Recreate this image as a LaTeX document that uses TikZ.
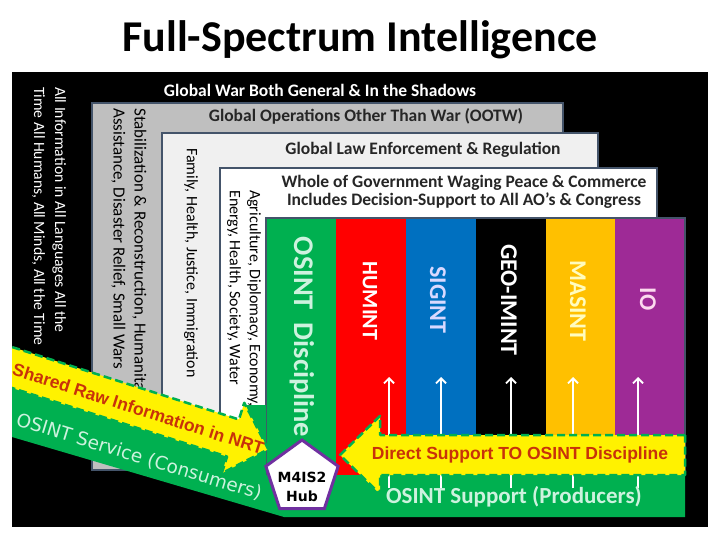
\documentclass[tikz,border=0pt]{standalone}
\usepackage{fontspec}
\setmainfont{Carlito}
\newfontfamily\arialfont{Liberation Sans}
\newfontfamily\dejavufont{DejaVu Sans}
\usetikzlibrary{shapes.geometric,arrows.meta}
\usepackage{xcolor}

\definecolor{slate}{RGB}{68,84,106}
\definecolor{ootwgray}{RGB}{191,191,191}
\definecolor{lawgray}{RGB}{240,240,240}
\definecolor{osgreen}{RGB}{0,176,80}
\definecolor{humred}{RGB}{255,0,0}
\definecolor{sigblue}{RGB}{0,112,192}
\definecolor{masorange}{RGB}{255,192,0}
\definecolor{iopurple}{RGB}{158,42,150}
\definecolor{hubpurple}{RGB}{112,48,160}
\definecolor{arrowtext}{RGB}{200,50,10}
\definecolor{mint}{RGB}{205,242,222}

\begin{document}
\begin{tikzpicture}[x=1pt,y=-1pt,
  frame/.style={fill=#1,draw=slate,line width=1.5pt},
  vlabel/.style={rotate=-90,anchor=west,inner sep=0pt,align=left,font=\fontsize{16}{20}\selectfont},
  barlabel/.style={rotate=-90,inner sep=0pt,font=\bfseries\fontsize{24}{26}\selectfont},
  bandlabel/.style={inner sep=0pt,align=center,font=\bfseries\fontsize{17.5}{18}\selectfont},
  upline/.style={white,line width=1.8pt,-{Straight Barb[length=5pt,width=10pt]}},
  yellowarrow/.style={fill=yellow,draw=osgreen,line width=2.5pt,dash pattern=on 8pt off 4pt,line join=round}]
\useasboundingbox (0,0) rectangle (720,540);

% title
\node (title) at (360,40) {\bfseries\fontsize{44}{48}\selectfont Full-Spectrum Intelligence};

% black field and the nested frames
\fill[black] (12,72) rectangle (708,527);
\draw[frame=ootwgray] (92,103) rectangle (563,470);
\draw[frame=lawgray] (162,133) rectangle (598,470);
\draw[frame=white] (220,168) rectangle (657,470);

\node[bandlabel,text=white] (war) at (320,90) {Global War Both General \& In the Shadows};
\node[bandlabel,text=black!85] (ootw) at (366,116) {Global Operations Other Than War (OOTW)};
\node[bandlabel,text=black!85] (law) at (423,150) {Global Law Enforcement \& Regulation};
\node[bandlabel,text=black!85] (whole) at (464,192)
  {Whole of Government Waging Peace \& Commerce\\Includes Decision-Support to All AO’s \& Congress};

\node[vlabel,text=white,font=\fontsize{15.7}{21}\selectfont] (allinfo) at (49,87)
  {All Information in All Languages All the\\Time All Humans, All Minds, All the Time};
\node[vlabel,font=\fontsize{17}{21}\selectfont] (stab) at (129,108)
  {Stabilization \& Reconstruction, Humanitarian\\Assistance, Disaster Relief, Small Wars};
\node[vlabel] (family) at (191,148) {Family, Health, Justice, Immigration};
\node[vlabel] (agri) at (244,190) {Agriculture, Diplomacy, Economy,\\Energy, Health, Society, Water};

% discipline bars
\fill[osgreen] (266,218) rectangle (336,475);
\fill[humred] (336,218) rectangle (406,475);
\fill[sigblue] (406,218) rectangle (476,475);
\fill[black] (476,218) rectangle (546,475);
\fill[masorange] (546,218) rectangle (615,475);
\fill[iopurple] (615,218) rectangle (685,475);
\draw[slate,line width=1.5pt] (266,475) -- (266,218) -- (685,218) -- (685,475);

\node[barlabel,text=mint,font=\bfseries\fontsize{28.5}{30}\selectfont] (osint) at (302,337) {OSINT\ \ Discipline};
\node[barlabel,text=white,font=\bfseries\fontsize{22}{24}\selectfont] (humint) at (370,301) {HUMINT};
\node[barlabel,text=blue!15] (sigint) at (438,300) {SIGINT};
\node[barlabel,text=white] (geoimint) at (509,300) {GEO-IMINT};
\node[barlabel,text=yellow!25] (masint) at (578,301) {MASINT};
\node[barlabel,text=magenta!15] (io) at (648,299) {IO};

% green service band
\fill[osgreen] (12,367) -- (235,440) -- (245,405) -- (266,405) -- (266,475) -- (685,475)
  -- (685,517) -- (284,517) -- (12,437) -- cycle;

% support arrows up the bars
\coordinate (s1) at (389,488); \coordinate (t1) at (389,377);
\coordinate (s2) at (441,488); \coordinate (t2) at (441,377);
\coordinate (s3) at (511,488); \coordinate (t3) at (511,377);
\coordinate (s4) at (573,488); \coordinate (t4) at (573,377);
\coordinate (s5) at (638,488); \coordinate (t5) at (638,377);
\draw[upline] (s1) -- (t1);
\draw[upline] (s2) -- (t2);
\draw[upline] (s3) -- (t3);
\draw[upline] (s4) -- (t4);
\draw[upline] (s5) -- (t5);

% yellow arrows
\begin{scope}
\clip (12,72) rectangle (708,527);
\begin{scope}[shift={(12,367.5)},rotate=-17.7]
\draw[yellowarrow] (-30,-19.5) -- (232,-19.5) -- (232,-37) -- (269,0) -- (232,37)
  -- (232,19.5) -- (-30,19.5) -- cycle;
\node[transform shape,inner sep=0pt,text=arrowtext] (shared) at (133,1)
  {\arialfont\bfseries\fontsize{17.5}{19}\selectfont Shared Raw Information in NRT};
\end{scope}
\draw[yellowarrow] (685,435) -- (380,435) -- (380,416) -- (340,455) -- (380,494)
  -- (380,475) -- (685,475) -- cycle;
\end{scope}

\node[inner sep=0pt,text=arrowtext] (direct) at (520,455)
  {\arialfont\bfseries\fontsize{17.5}{19}\selectfont Direct Support TO OSINT Discipline};
\node[inner sep=0pt,text=mint] (producers) at (514,497)
  {\bfseries\fontsize{23}{25}\selectfont OSINT Support (Producers)};
\node[inner sep=0pt,text=mint,rotate=-17] (consumers) at (139,457)
  {\dejavufont\fontsize{18.5}{20}\selectfont OSINT Service (Consumers)};

% hub
\node[regular polygon,regular polygon sides=5,minimum size=76pt,fill=white,
  draw=hubpurple,line width=3pt] (hub) at (302,478) {};
\node[align=center,inner sep=0pt,font=\dejavufont\bfseries\fontsize{14}{19}\selectfont]
  (hubtext) at ([yshift=-9pt]hub.center) {M4IS2\\Hub};
\end{tikzpicture}
\end{document}
